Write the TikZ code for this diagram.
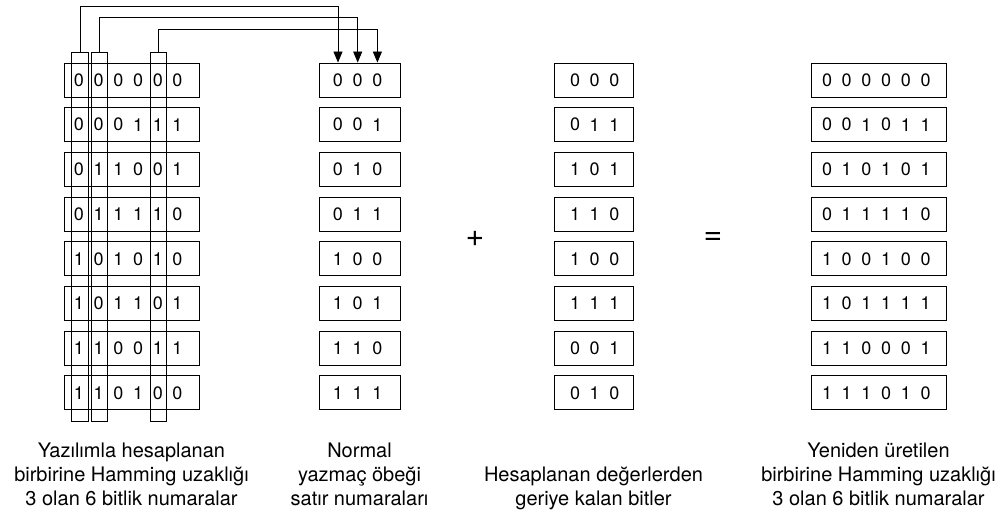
\documentclass[tikz,border=0pt]{standalone}
\usepackage{fontspec}
\setmainfont{TeX Gyre Heros}
\usetikzlibrary{arrows.meta}

% One column of bit boxes: #1 column id, #2 box centre x, #3 box width,
% #4 x of the first digit, #5 the rows as brace groups of bits
\newcommand\bitcolumn[5]{%
  \foreach \bits [count=\r from 0] in {#5} {
    \node[cell, minimum width=#3pt] (c#1r\r) at (#2, 80+44.7*\r) {};
    \foreach \b [count=\k from 0] in \bits
      \node[digit] (d#1r\r b\k) at (#4+19.7*\k, 80+44.7*\r) {\b};
  }}

\begin{document}
\begin{tikzpicture}[x=1pt, y=-1pt,
  cell/.style={draw, line width=0.9pt, minimum height=34pt, inner sep=0pt},
  strip/.style={draw, line width=0.9pt, minimum width=16.5pt, minimum height=369pt, inner sep=0pt},
  digit/.style={inner sep=0pt, font=\fontsize{18}{18}\selectfont},
  caption/.style={align=center, anchor=north, inner sep=0pt, font=\fontsize{20}{24}\selectfont},
  op/.style={inner sep=0pt, font=\fontsize{32}{32}\selectfont},
  link/.style={line width=0.9pt, -{Triangle[length=11pt,width=9pt]}}]
\useasboundingbox (0,0) rectangle (1005,513);

% 6-bit codes computed in software
\bitcolumn{1}{131.5}{135}{79}{{0,0,0,0,0,0},{0,0,0,1,1,1},{0,1,1,0,0,1},{0,1,1,1,1,0},{1,0,1,0,1,0},{1,0,1,1,0,1},{1,1,0,0,1,1},{1,1,0,1,0,0}}
% register file row numbers
\bitcolumn{2}{359.5}{81}{338}{{0,0,0},{0,0,1},{0,1,0},{0,1,1},{1,0,0},{1,0,1},{1,1,0},{1,1,1}}
% remaining bits
\bitcolumn{3}{593.5}{79}{575}{{0,0,0},{0,1,1},{1,0,1},{1,1,0},{1,0,0},{1,1,1},{0,0,1},{0,1,0}}
% regenerated 6-bit codes
\bitcolumn{4}{878.5}{135}{827}{{0,0,0,0,0,0},{0,0,1,0,1,1},{0,1,0,1,0,1},{0,1,1,1,1,0},{1,0,0,1,0,0},{1,0,1,1,1,1},{1,1,0,0,0,1},{1,1,1,0,1,0}}

% selected bit columns
\node[strip] (s1) at (80,236.5) {};
\node[strip] (s2) at (99.5,236.5) {};
\node[strip] (s3) at (158.5,236.5) {};

% routing of the selected bits to the row number
\draw[link] (s1.north) -- ++(0,-45) -| (c2r0.north -| d2r0b0);
\draw[link] (s2.north) -- ++(0,-34) -| (c2r0.north -| d2r0b1);
\draw[link] (s3.north) -- ++(0,-22) -| (c2r0.north -| d2r0b2);

% operators
\node[op] (plus) at (475,239) {+};
\node[op] (eq) at (713,239) {=};

% captions
\node[caption] (l1) at (131.5,442.6) {Yazılımla hesaplanan\\birbirine Hamming uzaklığı\\3 olan 6 bitlik numaralar};
\node[caption] (l2) at (359.5,442.6) {Normal\\yazmaç öbeği\\satır numaraları};
\node[caption] (l3) at (593.5,466.6) {Hesaplanan değerlerden\\geriye kalan bitler};
\node[caption] (l4) at (878.5,442.6) {Yeniden üretilen\\birbirine Hamming uzaklığı\\3 olan 6 bitlik numaralar};
\end{tikzpicture}
\end{document}
